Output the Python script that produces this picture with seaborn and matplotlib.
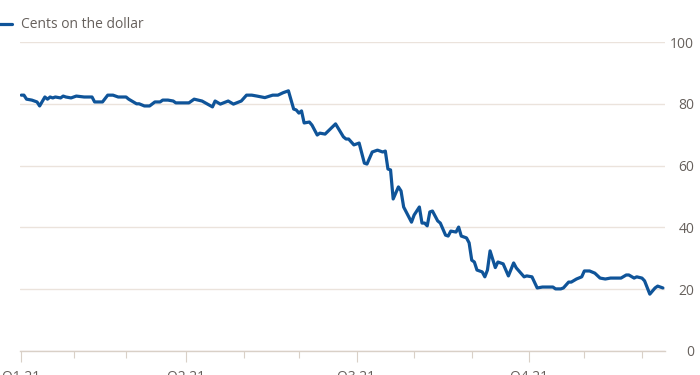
import numpy as np
import pandas as pd
import seaborn as sns
import matplotlib.pyplot as plt

# ---------------------------------------------------------
# Data: bond price (cents on the dollar)
# ---------------------------------------------------------
dates = [
    "2021-01-04", "2021-01-05", "2021-01-06", "2021-01-08", "2021-01-12", "2021-01-13",
    "2021-01-15", "2021-01-18", "2021-01-19", "2021-01-20", "2021-01-21", "2021-01-25",
    "2021-01-26", "2021-01-27", "2021-01-29", "2021-02-02", "2021-02-05", "2021-02-10",
    "2021-02-11", "2021-02-16", "2021-02-18", "2021-02-22", "2021-02-24", "2021-03-01",
    "2021-03-02", "2021-03-05", "2021-03-08", "2021-03-10", "2021-03-12", "2021-03-16",
    "2021-03-18", "2021-03-19", "2021-03-23", "2021-03-25", "2021-03-26", "2021-04-02",
    "2021-04-06", "2021-04-09", "2021-04-15", "2021-04-16", "2021-04-20", "2021-04-23",
    "2021-04-27", "2021-04-30", "2021-05-04", "2021-05-06", "2021-05-10", "2021-05-13",
    "2021-05-18", "2021-05-20", "2021-05-24", "2021-05-26", "2021-05-28", "2021-05-31",
    "2021-06-01", "2021-06-02", "2021-06-03", "2021-06-07", "2021-06-08", "2021-06-10",
    "2021-06-11", "2021-06-15", "2021-06-21", "2021-06-24", "2021-06-25", "2021-06-28",
    "2021-06-30", "2021-07-02", "2021-07-06", "2021-07-07", "2021-07-09", "2021-07-13",
    "2021-07-15", "2021-07-16", "2021-07-19", "2021-07-20", "2021-07-21", "2021-07-23",
    "2021-07-26", "2021-07-27", "2021-07-30", "2021-08-02", "2021-08-04", "2021-08-05",
    "2021-08-06", "2021-08-09", "2021-08-10", "2021-08-11", "2021-08-13", "2021-08-16",
    "2021-08-18", "2021-08-19", "2021-08-20", "2021-08-24", "2021-08-25", "2021-08-26",
    "2021-08-30", "2021-08-31", "2021-09-01", "2021-09-02", "2021-09-03", "2021-09-07",
    "2021-09-08", "2021-09-09", "2021-09-10", "2021-09-14", "2021-09-15", "2021-09-17",
    "2021-09-21", "2021-09-23", "2021-09-24", "2021-09-29", "2021-09-30", "2021-10-04",
    "2021-10-06", "2021-10-08", "2021-10-14", "2021-10-15", "2021-10-19", "2021-10-20",
    "2021-10-22", "2021-10-25", "2021-10-27", "2021-10-29", "2021-11-01", "2021-11-03",
    "2021-11-05", "2021-11-09", "2021-11-11", "2021-11-15", "2021-11-19", "2021-11-23",
    "2021-11-24", "2021-11-26", "2021-11-29", "2021-12-01", "2021-12-02", "2021-12-06",
    "2021-12-08", "2021-12-09", "2021-12-13",
]
cents = [
    82.8, 82.8, 81.5, 81.2, 80.6, 79.3, 82.2, 81.5, 82.2, 81.9, 82.2, 81.9,
    82.5, 82.2, 81.9, 82.5, 82.2, 82.2, 80.6, 80.6, 82.8, 82.8, 82.2, 82.2,
    81.5, 80.0, 80.0, 79.3, 79.3, 80.6, 80.6, 81.2, 81.2, 80.9, 80.3, 80.3,
    81.5, 80.9, 79.0, 80.9, 79.9, 80.9, 79.9, 80.9, 82.8, 82.8, 82.5, 82.0,
    82.8, 82.8, 83.6, 84.2, 78.3, 78.0, 77.0, 77.7, 73.8, 74.1, 73.1, 69.9,
    70.5, 70.2, 73.5, 69.3, 68.6, 68.6, 66.7, 67.3, 60.8, 60.5, 64.4, 65.0,
    64.4, 64.7, 58.9, 58.6, 49.2, 53.1, 51.8, 46.6, 41.7, 44.0, 46.6, 41.4,
    41.4, 40.5, 45.0, 45.3, 42.1, 41.4, 37.5, 37.2, 38.8, 38.5, 40.1, 37.2,
    36.6, 35.0, 29.4, 28.8, 26.2, 25.6, 24.0, 26.2, 32.4, 27.0, 28.8, 28.2,
    24.3, 28.5, 26.9, 24.0, 24.3, 24.0, 20.4, 20.7, 20.7, 20.1, 20.1, 20.4,
    22.3, 22.3, 23.3, 24.0, 25.9, 25.9, 25.2, 23.6, 23.3, 23.6, 23.6, 24.6,
    24.6, 23.6, 24.0, 23.6, 22.7, 18.4, 20.4, 21.0, 20.4,
]

month_starts = ["2021-01-04", "2021-02-01", "2021-03-01", "2021-04-01", "2021-05-03",
                "2021-06-01", "2021-07-01", "2021-08-02", "2021-09-01", "2021-10-01",
                "2021-11-01", "2021-12-01"]
quarter_starts = ["2021-01-04", "2021-04-01", "2021-07-01", "2021-10-01"]
quarter_labels = ["Q1 21", "Q2 21", "Q3 21", "Q4 21"]
y_ticks = [0, 20, 40, 60, 80, 100]

# ---------------------------------------------------------
# SETUP: Colors & Style
# ---------------------------------------------------------
sns.set_theme(style="white")
plt.rcParams['font.family'] = ['Open Sans', 'DejaVu Sans']

LINE_BLUE = "#0f5499"
GRID = "#ebe3dc"
BASE = "#d9d0c7"
TEXT = "#66605c"

# the chart uses a trading-day axis (weekends squeezed out)
origin = "2021-01-04"
df = pd.DataFrame({
    "pos": np.busday_count(origin, dates),
    "cents": cents,
})

fig = plt.figure(figsize=(7, 3.75), dpi=100)
ax = fig.add_axes([20 / 700, 1 - 351 / 375, 645 / 700, 309 / 375])

sns.lineplot(data=df, x="pos", y="cents", ax=ax, color=LINE_BLUE,
             linewidth=2.3, solid_joinstyle="round", label="Cents on the dollar",
             legend=False)

ax.set_xlim(-0.5, 245.8)
ax.set_ylim(0, 100)

# y axis on the right, gridlines only
ax.yaxis.tick_right()
ax.set_yticks(y_ticks)
ax.set_yticklabels([str(v) for v in y_ticks])
ax.tick_params(axis="y", length=0, pad=21, labelsize=10, labelcolor=TEXT)
for lab in ax.get_yticklabels():
    lab.set_horizontalalignment("right")
ax.grid(axis="y", color=GRID, linewidth=1)
ax.grid(axis="x", visible=False)

# x axis: month minor ticks, quarter major ticks
ax.set_xticks(np.busday_count(origin, quarter_starts))
ax.set_xticklabels(quarter_labels)
ax.set_xticks(np.busday_count(origin, month_starts), minor=True)
ax.tick_params(axis="x", which="major", bottom=True, length=8, width=0.8,
               color=BASE, labelsize=10, labelcolor=TEXT, pad=5)
ax.tick_params(axis="x", which="minor", bottom=True, length=5, width=0.8, color=BASE)

ax.set_xlabel("")
ax.set_ylabel("")
for side in ["top", "left", "right"]:
    ax.spines[side].set_visible(False)
ax.spines["bottom"].set_color(BASE)
ax.spines["bottom"].set_linewidth(1)
ax.set_axisbelow(True)

# --- legend in the top-left corner ---
handles, labels = ax.get_legend_handles_labels()
fig.legend(handles, labels, loc="center left", bbox_to_anchor=(-0.012, 1 - 25 / 375),
           frameon=False, handlelength=1.5, handletextpad=0.6, borderaxespad=0,
           borderpad=0, fontsize=10, labelcolor=TEXT)

fig.savefig("out.png", dpi=100)
